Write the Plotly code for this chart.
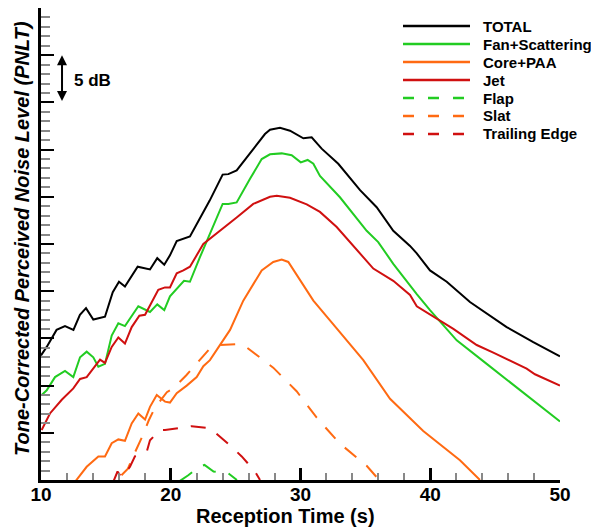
import plotly.graph_objects as go

# reception time (s) / PNLT (dB)
total_t = [10.0, 10.44, 11.2, 11.85, 12.5, 13.0, 13.47, 14.03, 14.93, 15.53, 16.01, 16.47,
           17.45, 18.4, 18.96, 19.5, 19.94, 20.46, 21.48, 23.0, 24.0, 24.44, 25.08, 26.36,
           27.26, 27.65, 28.42, 29.19, 30.22, 30.86, 31.63, 32.91, 34.59, 35.87, 37.15,
           38.44, 38.96, 39.98, 41.27, 43.06, 45.89, 47.94, 50.0]
total_db = [63.2, 64.1, 65.9, 66.3, 65.9, 67.5, 68.2, 67.0, 67.3, 69.9, 71.0, 70.5,
            72.6, 72.3, 73.5, 72.8, 73.8, 75.3, 75.8, 79.6, 82.35, 82.4, 82.8, 85.1,
            86.65, 87.1, 87.3, 87.0, 86.2, 86.3, 85.1, 83.5, 80.7, 78.9, 76.4,
            74.8, 74.0, 72.2, 71.0, 68.85, 66.2, 64.6, 63.1]

fan_t = [10.05, 10.44, 11.08, 11.85, 12.49, 13.01, 13.52, 14.03, 14.42, 14.93, 15.45, 15.96,
         16.47, 17.5, 18.4, 18.96, 19.5, 19.94, 21.02, 21.48, 22.25, 22.89, 24.0, 24.44,
         25.08, 26.11, 27.01, 27.65, 28.55, 29.32, 30.02, 30.55, 30.99, 31.5, 33.04,
         35.1, 35.99, 37.15, 38.44, 38.96, 39.98, 42.04, 44.35, 46.94, 50.0]
fan_db = [59.0, 59.5, 60.9, 61.55, 60.9, 63.0, 63.6, 63.0, 62.0, 62.3, 65.3, 66.6,
          66.3, 68.4, 67.8, 68.6, 68.0, 69.45, 71.1, 71.0, 73.6, 75.7, 79.25, 79.25,
          79.4, 81.9, 84.0, 84.5, 84.6, 84.4, 83.65, 83.9, 83.5, 82.2, 79.95,
          76.4, 75.2, 72.9, 70.6, 69.7, 68.0, 64.8, 62.3, 59.5, 56.2]

core_t = [12.62, 13.52, 14.42, 14.93, 15.45, 15.96, 16.47, 16.99, 17.5, 18.02, 18.4, 18.92,
          19.56, 19.94, 20.46, 21.23, 22.0, 22.51, 23.02, 23.8, 24.57, 25.59, 27.01, 27.9,
          28.55, 29.06, 30.99, 32.27, 34.84, 36.9, 39.46, 42.29, 43.83]
core_db = [49.8, 51.4, 52.5, 52.5, 53.9, 54.3, 54.15, 56.0, 57.05, 56.4, 57.75, 59.0,
           58.3, 58.2, 59.2, 60.0, 60.9, 62.05, 62.7, 64.3, 65.9, 69.0, 72.2, 73.1,
           73.35, 73.1, 69.0, 66.9, 62.7, 58.6, 55.2, 52.1, 50.0]

jet_t = [10.05, 10.69, 11.6, 12.49, 13.01, 13.52, 14.55, 14.93, 15.45, 15.96, 16.47, 16.99,
         17.58, 18.02, 19.04, 19.56, 19.94, 20.46, 20.97, 21.48, 22.51, 23.54, 25.08, 26.36,
         27.65, 28.17, 29.19, 30.48, 31.5, 32.79, 34.59, 35.61, 37.15, 38.44, 38.96,
         40.24, 41.78, 43.58, 44.86, 47.43, 48.07, 50.0]
jet_db = [55.3, 57.05, 58.5, 59.7, 60.7, 60.9, 62.75, 62.4, 64.1, 65.1, 64.45, 66.2,
          67.4, 67.5, 70.15, 70.4, 70.4, 71.9, 72.2, 72.6, 75.0, 76.1, 77.8, 79.25,
          80.0, 80.1, 79.9, 79.2, 78.4, 76.8, 74.0, 72.4, 71.1, 69.6, 68.4,
          67.3, 66.0, 64.3, 63.5, 61.8, 61.2, 60.0]

flap_t = [20.7, 21.35, 22.2, 22.6, 23.3, 24.44, 25.1]
flap_db = [49.9, 50.5, 51.4, 51.6, 50.9, 50.7, 50.0]

slat_t = [16.2, 16.7, 17.1, 17.8, 18.3, 18.8, 19.7, 20.2, 21.2, 21.9, 22.5, 23.0, 23.8,
          25.1, 25.85, 27.9, 29.7, 31.25, 33.0, 35.1, 36.0]
slat_db = [50.5, 51.2, 52.5, 54.6, 56.3, 57.7, 59.3, 59.7, 61.1, 62.2, 63.2, 63.9, 64.3,
           64.4, 64.05, 61.9, 59.4, 56.6, 53.9, 51.5, 50.1]

te_t = [15.6, 15.9, 16.2, 16.86, 17.24, 18.15, 18.4, 19.17, 19.56, 20.84, 21.61, 23.02,
        23.54, 24.7, 25.47, 26.49, 26.88]
te_db = [49.9, 50.9, 50.3, 51.4, 52.5, 53.0, 54.2, 55.3, 55.3, 55.6, 55.7, 55.5,
         54.9, 53.5, 52.5, 50.9, 50.0]

names = ["TOTAL", "Fan+Scattering", "Core+PAA", "Jet", "Flap", "Slat", "Trailing Edge"]
colors = ["#000000", "#22cc22", "#ff6a12", "#d01010", "#22cc22", "#ff6a12", "#d01010"]
dashes = ["solid", "solid", "solid", "solid", "15px,13px", "15px,13px", "15px,13px"]
series = [(total_t, total_db), (fan_t, fan_db), (core_t, core_db), (jet_t, jet_db),
          (flap_t, flap_db), (slat_t, slat_db), (te_t, te_db)]

FONT = "Liberation Sans, Arial, sans-serif"

# page has an 8px body margin, so the figure is 8px smaller and shifted
W, H = 591, 519
ML, MR, MT, MB = 33, 39, 0, 47
PW, PH = W - ML - MR, H - MT - MB


def px(x):  # page pixel -> paper x
    return (x - 8 - ML) / PW


def py(y):  # page pixel -> paper y
    return (H - MB - (y - 8)) / PH


fig = go.Figure()
for (t, db), name, col, dsh in zip(series, names, colors, dashes):
    fig.add_trace(go.Scatter(
        x=t, y=db, mode="lines", name=name,
        line=dict(color=col, width=2, dash=dsh),
        showlegend=False, cliponaxis=True
    ))

fig.update_xaxes(range=[10, 50], dtick=10, ticks="inside", ticklen=12, tickwidth=3,
                 tickcolor="black", showline=True, linewidth=3, linecolor="black",
                 showgrid=False, zeroline=False, ticklabelstandoff=-5,
                 tickfont=dict(family=FONT, size=19, color="black", weight="bold"),
                 minor=dict(dtick=2, ticks="inside", ticklen=7, tickwidth=1.5,
                            tickcolor="#888888", showgrid=False))
fig.update_yaxes(range=[50, 100], dtick=5, ticks="inside", ticklen=13, tickwidth=2,
                 tickcolor="black", showline=True, linewidth=3, linecolor="black",
                 showgrid=False, zeroline=False, showticklabels=False,
                 minor=dict(dtick=1, ticks="inside", ticklen=9, tickwidth=1.5,
                            tickcolor="#888888", showgrid=False))

# legend drawn by hand to get the long line samples
leg_y = [26, 44, 62, 80, 98, 116, 134]
shapes = []
annotations = []
for i, (name, col, ly) in enumerate(zip(names, colors, leg_y)):
    shapes.append(dict(type="line", xref="paper", yref="paper",
                       x0=px(403), x1=px(470), y0=py(ly), y1=py(ly),
                       line=dict(color=col, width=2.5,
                                 dash="solid" if i < 4 else "11px,14px")))
    annotations.append(dict(xref="paper", yref="paper", x=px(481), y=py(ly),
                            text=name, showarrow=False, xanchor="left", yanchor="middle",
                            font=dict(family=FONT, size=15, color="black", weight="bold")))

# 5 dB scale bar
annotations.append(dict(x=11.62, y=95, ax=11.62, ay=90, xref="x", yref="y",
                        axref="x", ayref="y", text="", showarrow=True,
                        arrowhead=2, startarrowhead=2, arrowside="end+start",
                        arrowsize=1, arrowwidth=2, arrowcolor="black"))
annotations.append(dict(xref="paper", yref="paper", x=px(72), y=py(80), text="5 dB",
                        showarrow=False, xanchor="left", yanchor="middle",
                        font=dict(family=FONT, size=17, color="black", weight="bold")))

# axis titles
annotations.append(dict(xref="paper", yref="paper", x=px(285.5), y=py(516),
                        text="Reception Time (s)", showarrow=False,
                        xanchor="center", yanchor="middle",
                        font=dict(family=FONT, size=20, color="black", weight="bold")))
annotations.append(dict(xref="paper", yref="paper", x=px(22), y=py(239),
                        text="<i>Tone-Corrected Perceived Noise Level (PNLT)</i>",
                        showarrow=False, textangle=-90,
                        xanchor="center", yanchor="middle",
                        font=dict(family=FONT, size=20, color="black", weight="bold")))

fig.update_layout(width=W, height=H, margin=dict(l=ML, r=MR, t=MT, b=MB),
                  plot_bgcolor="white", paper_bgcolor="white",
                  shapes=shapes, annotations=annotations, showlegend=False)

fig.write_html("out.html")
